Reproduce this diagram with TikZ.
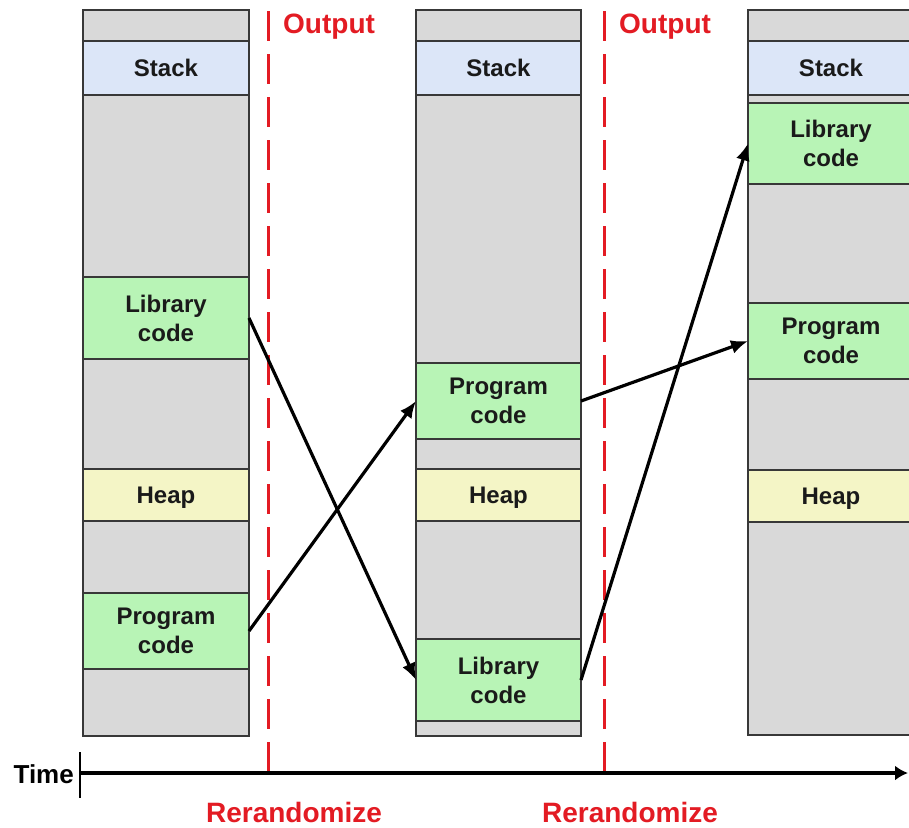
\documentclass[tikz,border=0pt]{standalone}
\usepackage{fontspec}
\setmainfont{Liberation Sans}
\usetikzlibrary{arrows.meta}
\definecolor{segGray}{HTML}{D9D9D9}
\definecolor{stackBlue}{HTML}{DCE6F8}
\definecolor{codeGreen}{HTML}{B8F4B6}
\definecolor{heapYellow}{HTML}{F4F5C6}
\definecolor{segBorder}{HTML}{383838}
\definecolor{txt}{HTML}{1A1A1A}
\definecolor{redC}{HTML}{E31B23}
\begin{document}
\begin{tikzpicture}[x=1pt,y=-1pt,
  seg/.style={draw=segBorder, line width=1.8pt, inner sep=0pt, outer sep=0pt, anchor=north west,
    font=\fontsize{24}{29}\selectfont\bfseries, text=txt, align=center},
  colbox/.style={seg, fill=segGray},
  stackbox/.style={seg, fill=stackBlue},
  codebox/.style={seg, fill=codeGreen},
  heapbox/.style={seg, fill=heapYellow, text depth=0pt},
  arr/.style={line width=3.2pt, -{Latex[length=17pt,width=14pt]}},
  redline/.style={draw=redC, line width=3pt, dash pattern=on 30pt off 13pt},
  redlabel/.style={text=redC, font=\fontsize{28}{30}\selectfont\bfseries, inner sep=0pt},
  axisline/.style={line width=3.4pt, -{Latex[length=13pt,width=15pt]}}
]
\useasboundingbox (0,0) rectangle (909,827);
\clip (0,0) rectangle (909,827);
\fill[white] (0,0) rectangle (909,827);

% column 1
\node[colbox, minimum width=166pt, minimum height=726pt] (c1) at (83,10) {};
\node[stackbox, minimum width=166pt, minimum height=54pt] (st1) at (83,41) {Stack};
\node[codebox, minimum width=166pt, minimum height=82pt] (lib1) at (83,277) {Library\\code};
\node[heapbox, minimum width=166pt, minimum height=52pt] (hp1) at (83,469) {Heap};
\node[codebox, minimum width=166pt, minimum height=76pt] (prg1) at (83,593) {Program\\code};

% column 2
\node[colbox, minimum width=165pt, minimum height=726pt] (c2) at (416,10) {};
\node[stackbox, minimum width=165pt, minimum height=54pt] (st2) at (416,41) {Stack};
\node[codebox, minimum width=165pt, minimum height=76pt] (prg2) at (416,363) {Program\\code};
\node[heapbox, minimum width=165pt, minimum height=52pt] (hp2) at (416,469) {Heap};
\node[codebox, minimum width=165pt, minimum height=82pt] (lib2) at (416,639) {Library\\code};

% column 3
\node[colbox, minimum width=166pt, minimum height=725pt] (c3) at (748,10) {};
\node[stackbox, minimum width=166pt, minimum height=54pt] (st3) at (748,41) {Stack};
\node[codebox, minimum width=166pt, minimum height=81pt] (lib3) at (748,103) {Library\\code};
\node[codebox, minimum width=166pt, minimum height=76pt] (prg3) at (748,303) {Program\\code};
\node[heapbox, minimum width=166pt, minimum height=52pt] (hp3) at (748,470) {Heap};

% red dashed separators
\coordinate (d1top) at (268,11);
\coordinate (d1bot) at (268,780);
\coordinate (d2top) at (604,11);
\coordinate (d2bot) at (604,780);
\draw[redline] (d1top) -- (d1bot);
\draw[redline] (d2top) -- (d2bot);

\node[redlabel, anchor=base west] (out1) at (283,33) {Output};
\node[redlabel, anchor=base west] (out2) at (619,33) {Output};
\node[redlabel, anchor=base] (rr1) at (294,822) {Rerandomize};
\node[redlabel, anchor=base] (rr2) at (630,822) {Rerandomize};

% arrows
\draw[arr] (lib1.east) -- (lib2.west);
\draw[arr] (prg1.east) -- (prg2.west);
\draw[arr] (prg2.east) -- (prg3.west);
\draw[arr] (lib2.east) -- (lib3.west);

% time axis
\node[anchor=base east, inner sep=0pt, font=\fontsize{26}{28}\selectfont\bfseries] (time) at (74,783) {Time};
\coordinate (t0) at (80,773);
\coordinate (t1) at (908,773);
\coordinate (tk0) at (80,752);
\coordinate (tk1) at (80,798);
\draw[axisline] (t0) -- (t1);
\draw[line width=2.5pt] (tk0) -- (tk1);
\end{tikzpicture}
\end{document}
